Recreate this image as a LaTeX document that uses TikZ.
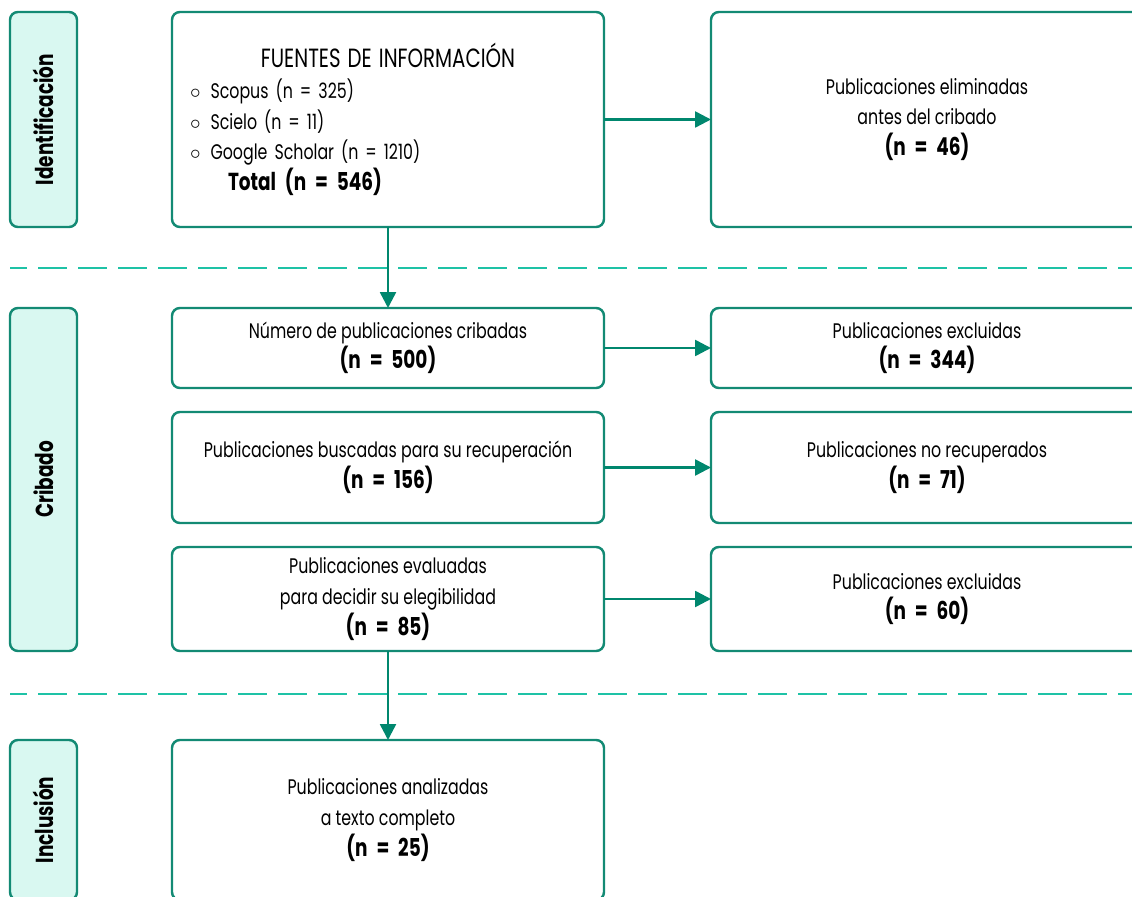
\documentclass[tikz,border=0pt]{standalone}
\usepackage{fontspec}
\setmainfont[FakeStretch=0.75]{Poppins}
\usepackage{graphicx}
\usetikzlibrary{positioning, arrows.meta}
\definecolor{boxteal}{HTML}{138A74}
\definecolor{arrowteal}{HTML}{00876E}
\definecolor{dashteal}{HTML}{1EC2A6}
\definecolor{sidefill}{HTML}{D9F8F1}
\newcommand{\txtfont}{\fontsize{12}{17.4}\selectfont}
\newcommand{\sidefont}{\fontsize{14}{16}\selectfont\bfseries}
\newcommand{\nb}[1]{{\fontsize{14}{17.4}\selectfont\bfseries\spaceskip=0.36em #1}}

\begin{document}
\begin{tikzpicture}[node distance=0.48cm and 2.14cm,
    box/.style={draw=boxteal, line width=1.4pt, outer sep=0pt, rounded corners=4.5pt, minimum width=8.64cm, align=center, font=\txtfont},
    side/.style={draw=boxteal, fill=sidefill, line width=1.4pt, outer sep=0pt, rounded corners=4.5pt, minimum width=1.34cm, font=\sidefont},
    arrow/.style={-{Triangle[length=9pt,width=9pt]}, draw=arrowteal, line width=1.4pt},
    sepline/.style={draw=dashteal, line width=1.7pt, dash pattern=on 0.58cm off 0.22cm, dash phase=0.24cm}]
    \useasboundingbox (0,0) rectangle (22.64,17.92);
    \clip (0,0) rectangle (22.64,17.92);

    % left column
    \node[box, text width=7.92cm, inner xsep=0.36cm, minimum height=4.3cm, align=left] (fuentes) at (7.76,15.53)
        {\makebox[7.92cm]{\fontsize{15}{17.4}\selectfont FUENTES DE INFORMACIÓN}\\
         $\circ$\hspace{0.2cm}Scopus (n = 325)\\
         $\circ$\hspace{0.2cm}Scielo (n = 11)\\
         $\circ$\hspace{0.2cm}Google Scholar (n = 1210)\\
         \hspace*{0.76cm}\nb{Total (n = 546)}};
    \node[box, minimum height=1.6cm, below=1.62cm of fuentes] (cribadas) {Número de publicaciones cribadas\\ \nb{(n = 500)}};
    \node[box, minimum height=2.22cm, below=of cribadas] (buscadas) {Publicaciones buscadas para su recuperación\\ \nb{(n = 156)}};
    \node[box, minimum height=2.08cm, below=of buscadas] (evaluadas) {Publicaciones evaluadas\\ para decidir su elegibilidad\\ \nb{(n = 85)}};
    \node[box, minimum height=3.2cm, below=1.78cm of evaluadas] (analizadas) {Publicaciones analizadas\\ a texto completo\\ \nb{(n = 25)}};

    % right column
    \node[box, minimum height=4.3cm, right=of fuentes] (eliminadas) {Publicaciones eliminadas\\ antes del cribado\\ \nb{(n = 46)}};
    \node[box, minimum height=1.6cm, right=of cribadas] (excl1) {Publicaciones excluidas\\ \nb{(n = 344)}};
    \node[box, minimum height=2.22cm, right=of buscadas] (norecup) {Publicaciones no recuperados\\ \nb{(n = 71)}};
    \node[box, minimum height=2.08cm, right=of evaluadas] (excl2) {Publicaciones excluidas\\ \nb{(n = 60)}};

    % stages
    \node[side, minimum height=4.3cm, left=1.9cm of fuentes] (ident) {\rotatebox{90}{Identificación}};
    \node[side, minimum height=6.86cm] (cribado) at (0.87,8.33) {\rotatebox{90}{Cribado}};
    \node[side, minimum height=3.2cm, left=1.9cm of analizadas] (inclusion) {\rotatebox{90}{Inclusión}};

    \draw[sepline] (0.2,12.56) -- (22.8,12.56);
    \draw[sepline] (0.2,4.04) -- (22.8,4.04);

    \draw[arrow] (fuentes) -- (eliminadas);
    \draw[arrow] (cribadas) -- (excl1);
    \draw[arrow] (buscadas) -- (norecup);
    \draw[arrow] (evaluadas) -- (excl2);
    \draw[arrow] (fuentes) -- (cribadas);
    \draw[arrow] (evaluadas) -- (analizadas);
\end{tikzpicture}
\end{document}
